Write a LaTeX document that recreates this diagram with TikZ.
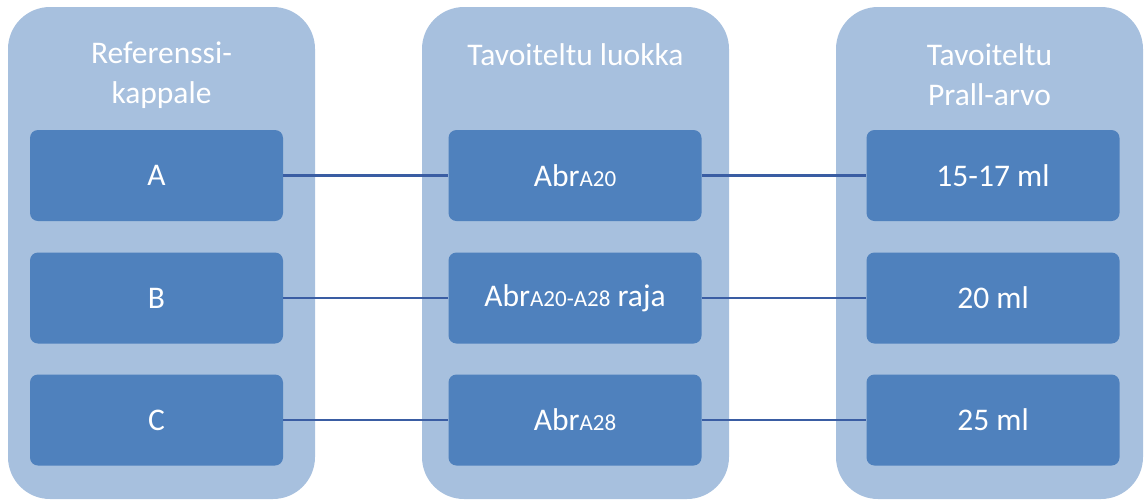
\documentclass[tikz,border=0pt]{standalone}
\usepackage{fontspec}
\setmainfont{Carlito}
\definecolor{contfill}{HTML}{A7C0DE}
\definecolor{boxfill}{HTML}{4F81BD}
\definecolor{linecol}{HTML}{3A5DA3}
\newcommand{\smc}[1]{{\fontsize{23}{23}\selectfont #1}}
\begin{document}
\begin{tikzpicture}[x=1pt,y=-1pt,
  container/.style={fill=contfill, draw=none, rounded corners=42pt},
  itembox/.style={fill=boxfill, draw=none, rounded corners=8pt, minimum width=253pt, minimum height=91pt, text=white, font=\fontsize{31.5}{36}\selectfont, inner sep=0pt},
  header/.style={text=white, font=\fontsize{31.5}{40}\selectfont, align=center, inner sep=0pt},
  conn/.style={draw=linecol, line width=2.8pt}]
\useasboundingbox (0,0) rectangle (1144,499);
% containers
\fill[container] (8,7) rectangle (315,499);
\fill[container] (422,7) rectangle (729,499);
\fill[container] (836,7) rectangle (1143,499);
% headers
\node[header] (h1) at (161.5,75) {Referenssi-\\kappale};
\node[header] (h2) at (575.5,55) {Tavoiteltu luokka};
\node[header] (h3) at (989.5,75) {Tavoiteltu\\Prall-arvo};
% column 1
\node[itembox] (a) at (156.5,175.5) {A};
\node[itembox] (b) at (156.5,298) {B};
\node[itembox] (c) at (156.5,420) {C};
% column 2
\node[itembox] (m1) at (575,175.5) {Abr\smc{A20}};
\node[itembox] (m2) at (575,298) {Abr\smc{A20-A28} raja};
\node[itembox] (m3) at (575,420) {Abr\smc{A28}};
% column 3
\node[itembox] (r1) at (993,175.5) {15-17 ml};
\node[itembox] (r2) at (993,298) {20 ml};
\node[itembox] (r3) at (993,420) {25 ml};
% connectors
\draw[conn] (a.east) -- (m1.west);
\draw[conn] (b.east) -- (m2.west);
\draw[conn] (c.east) -- (m3.west);
\draw[conn] (m1.east) -- (r1.west);
\draw[conn] (m2.east) -- (r2.west);
\draw[conn] (m3.east) -- (r3.west);
\end{tikzpicture}
\end{document}
